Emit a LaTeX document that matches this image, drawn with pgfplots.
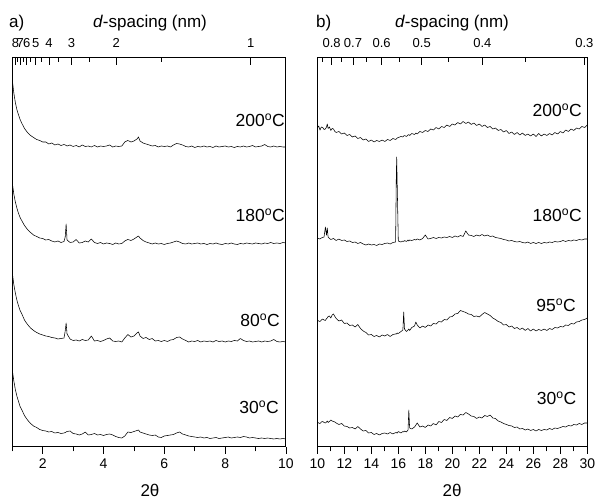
\documentclass[border=0pt]{standalone}
\usepackage{fontspec}
\setmainfont{Liberation Sans}
\usepackage{pgfplots}
\usepackage{pgfplotstable}
\pgfplotsset{compat=1.18}

\pgfplotstableread{
x t200 t180 t80 t30
1.00 367 264 174 77
1.05 354 253 162.5 66
1.10 344.5 245 154 57.5
1.15 337.5 239 147 51
1.20 332.5 234 141.5 46
1.25 328 230 137 41
1.30 324.5 227 134 38
1.40 318.5 221.5 127 31.5
1.50 314.5 217.5 122.5 27
1.60 311.5 214.5 119 23.5
1.70 309.5 212 116.5 21
1.80 307.5 210.5 114.5 19.5
1.90 306.5 209 113 17.5
2.00 305 208.5 112 16.5
2.10 305 207 111 16
2.20 303 207.5 110.5 15
2.30 304 206 109.5 15.5
2.40 302 205 109 14
2.50 303 206 108 14.5
2.60 301.5 204.5 108.5 13.5
2.70 302.5 205.5 109 14
2.74 302 210 116 14.5
2.77 301.5 223 124 15
2.80 301 207 113 15.5
2.90 302 204.5 108 16
3.00 300.5 205 106.5 13.5
3.10 301.5 207.5 107 13
3.20 300 204 106 12
3.30 302 204.5 107.5 13
3.40 300.5 206 106.5 15
3.50 301 205 107 12
3.60 300 208 111 12.5
3.70 301.5 204.5 106 13.5
3.80 300 203.5 106.5 12
3.90 301 204.5 105.5 12.5
4.00 300.5 203 106.5 11.5
4.10 301 204 108 12.5
4.20 302 203.5 109 13
4.30 300 202.5 106 12
4.40 301 204 105.5 10.5
4.50 300.5 203 106 9.5
4.60 301 203.5 105 9
4.70 305 206 109 11
4.80 306.5 207.5 112.5 15
4.90 305 206.5 110 14.5
5.00 306 208 111 15.5
5.10 308 210 114 16.5
5.15 310 211 115 17
5.20 306 209 111 15
5.30 304 206.5 108.5 14
5.40 303 205 109.5 13
5.50 302 204 107.5 12
5.60 301 203 108.5 11.5
5.70 301.5 204 106 12
5.80 300 203 106.5 10
5.90 301 203.5 105.5 9.5
6.00 300.5 202.5 106.5 11
6.10 301 203.5 105.5 11.5
6.20 300 204 107 12
6.30 302 205 107.5 12.5
6.40 303.5 206 109.5 14
6.50 303 205 110 15
6.60 302 203.5 108 13
6.70 300.5 203 106.5 12
6.80 300 204 105 11
6.90 301 203 106 10.5
7.00 299.5 203.5 105.5 10
7.10 300.5 204 106.5 9.5
7.20 300 203 105 10
7.30 301 203.5 106 9
7.40 300 202.5 105.5 9.5
7.50 300.5 203.5 106 8.5
7.60 299.5 203 105 9
7.70 301 204 106.5 9.5
7.80 300 203 105.5 8.5
7.90 300.5 202.5 106 9
8.00 301 203.5 105 9.5
8.10 300 203 106 10
8.20 300.5 204 105.5 9
8.30 299.5 203 106.5 9.5
8.40 300.5 202.5 106 10
8.50 300 203.5 108.5 9.5
8.60 301 203 106.5 10.5
8.70 300 204 105.5 10
8.80 300.5 203.5 106 9
8.90 301.5 203 105 9.5
9.00 300 204 105.5 9
9.10 300.5 203.5 106 8.5
9.20 301 203 105 9
9.30 302.5 204 106 8.5
9.40 300.5 203.5 105.5 9
9.50 300 204.5 106 8.5
9.60 301 203.5 107.5 8
9.70 300 204 105.5 8.5
9.80 300.5 203.5 105 8
9.90 300 204.5 105.5 8.5
10.00 300 204 105 8
}\tablea

\pgfplotstableread{
x b200 b180 b95 b30
10.0 319 209 127 25
10.1 321 208.5 126 24
10.2 317 208 125.5 23.5
10.3 320 209 127 25
10.4 319.5 209.5 128 25.5
10.5 317.5 210 127 24.5
10.6 318 220 126.5 24
10.68 320 212 128.5 25
10.74 323 219 129 26
10.8 318.5 210 130.5 24.5
10.9 320 208.5 131 25.5
11.0 316.5 207.5 129 27
11.1 318.5 208 132 26
11.2 318 208.5 133 25.5
11.3 315.5 207.5 130.5 25
11.4 314.5 206.5 128.5 24
11.6 315.5 208 126 22.5
11.8 313 206.5 127 23.5
12.0 314 207 123.5 21
12.2 311.5 205.5 124 20.5
12.4 312.5 206 121.5 19
12.6 310 204.5 122 19.5
12.8 311 205 120 18
13.0 308.5 203.5 122.5 20.5
13.2 309.5 204.5 118.5 18
13.4 307 203 116 16
13.6 308 202 114.5 16.5
13.8 305.5 203 112 14
14.0 307 202 112.5 14.5
14.2 305 202.5 110.5 12.5
14.4 306.5 201.5 111.5 13.5
14.6 305.5 203 110 12
14.8 307 202.5 112 13.5
15.0 305.5 203.5 111 14
15.2 307.5 204 112.5 13
15.4 306.5 203 110.5 14.5
15.6 308.5 204.5 112.5 13
15.8 307.5 205 113 14.5
15.85 308 268 113.5 14
15.88 308.5 290 113 14.5
15.92 309 262 114 14
16.0 309.5 206 113.5 15.5
16.2 310.5 205 115.5 14
16.34 310 206 117 15.5
16.4 311 205.5 135 15
16.46 311.5 206.5 118 16
16.6 310.5 205.5 115.5 15
16.72 312 207 117 17
16.78 312.5 206 118 37
16.84 311.5 207 116.5 19
17.0 313.5 206.5 119.5 18
17.2 312.5 207.5 121 20
17.3 314 207 125 22
17.4 313 208 122 24
17.6 315.5 207 119 20
17.8 314.5 208.5 121 21
18.0 316.5 212 119.5 19.5
18.2 315.5 208 122 22
18.4 318 208.5 121 21
18.6 317 209.5 123.5 23.5
18.8 319.5 208.5 123 22
19.0 318 209.5 125.5 25.5
19.2 320.5 209 125 24.5
19.4 319.5 210 127.5 27.5
19.6 322 209.5 127 26.5
19.8 320.5 210.5 130 29.5
20.0 323 209.5 130.5 28.5
20.2 322 211 133 31
20.4 324.5 210 133.5 30
20.6 323 211.5 136.5 32.5
20.8 325.5 210.5 135.5 32
21.0 323.5 216 134.5 34.5
21.2 325 212 133 33
21.4 322.5 211.5 132.5 31
21.6 324 210.5 130.5 30.5
21.8 321.5 212 131 28.5
22.0 323 211 130 30
22.2 320.5 212.5 132.5 29
22.4 322 211 134.5 31.5
22.6 319.5 212 133 30.5
22.8 320.5 210.5 131.5 32
23.0 318 211 129 29
23.2 319 209.5 127.5 28.5
23.4 316.5 209 125.5 26
23.6 317.5 208.5 124.5 25
23.8 315 207.5 122 23.5
24.0 316.5 207 122.5 22.5
24.2 313.5 206 120 21.5
24.4 315 206.5 121 21
24.6 312.5 205.5 118.5 19.5
24.8 314.5 205 119.5 20
25.0 312 205.5 117.5 18
25.2 314 204.5 119 18.5
25.4 311.5 204 116.5 17
25.6 313 205 118.5 18
25.8 311 203.5 116 16.5
26.0 313 204.5 118 17.5
26.2 310.5 203.5 116 16
26.4 313.5 204.5 117.5 17.5
26.6 311 203.5 116.5 16.5
26.8 313 204.5 118 17.5
27.0 311.5 204 116.5 17
27.2 313.5 205 118.5 18.5
27.4 312 204.5 117.5 17.5
27.6 314.5 205.5 119.5 19
27.8 313 205 119 18.5
28.0 315.5 205.5 120.5 19.5
28.2 314 206.5 120 20.5
28.4 317 205.5 122 20
28.6 315.5 206.5 121.5 21.5
28.8 318 206 123.5 21
29.0 316.5 207 123 22.5
29.2 319 206.5 125 22
29.4 318 207.5 125.5 23.5
29.6 320.5 207 127 22.5
29.8 319.5 208 127.5 24
30.0 322 208 129 24
}\tableb

\pgfplotsset{
  mainax/.style={
    scale only axis, anchor=south west, height=389pt,
    ymin=0, ymax=389, ytick=\empty,
    xtick pos=bottom, tick align=outside,
    major tick length=7pt, minor tick length=4.5pt,
    axis line style={line width=1pt},
    every tick/.style={line width=0.8pt, black},
    xticklabel style={font=\fontsize{14}{16}\selectfont, yshift=-1pt},
    /pgf/number format/assume math mode=true,
  },
  topax/.style={
    scale only axis, anchor=south west, height=389pt,
    ymin=0, ymax=1, axis y line=none, axis x line*=top,
    tick align=inside,
    major tick length=7pt, minor tick length=4.5pt,
    axis line style={line width=1pt},
    every tick/.style={line width=0.8pt, black},
    xticklabel style={font=\fontsize{13}{15}\selectfont, yshift=7pt},
    /pgf/number format/assume math mode=true,
  },
}
\tikzset{
  curve/.style={black, line width=0.55pt, line join=round},
  lab/.style={anchor=east, font=\fontsize{17.5}{20}\selectfont, inner sep=0pt},
  ttl/.style={font=\fontsize{17}{20}\selectfont},
}

\begin{document}
\begin{tikzpicture}
\useasboundingbox (0pt,0pt) rectangle (600pt,500pt);

% ---- panel a ----
\begin{axis}[mainax, at={(12.3pt,53pt)}, width=273.7pt,
  xmin=1, xmax=10, xtick={2,4,6,8,10}, minor xtick={1,3,5,7,9}]
  \addplot[curve] table[x=x,y=t200]{\tablea};
  \addplot[curve] table[x=x,y=t180]{\tablea};
  \addplot[curve] table[x=x,y=t80]{\tablea};
  \addplot[curve] table[x=x,y=t30]{\tablea};
  \node[lab] at (axis cs:9.97,327) {200\textsuperscript{o}C};
  \node[lab] at (axis cs:9.97,232) {180\textsuperscript{o}C};
  \node[lab] at (axis cs:9.80,127) {80\textsuperscript{o}C};
  \node[lab] at (axis cs:9.77,40) {30\textsuperscript{o}C};
\end{axis}
\begin{axis}[topax, at={(12.3pt,53pt)}, width=273.7pt,
  xmin=1, xmax=10,
  xtick={1.1043,1.2620,1.4723,1.7668,2.2086,2.9450,4.4180,8.8427},
  xticklabels={8,7,6,5,4,3,2,1},
  minor xtick={1.1779,1.3591,1.6062,1.9632,2.5242,3.5341,5.8918}]
  \addplot[draw=none] coordinates {(1,0)};
\end{axis}

% ---- panel b ----
\begin{axis}[mainax, at={(317.3pt,53pt)}, width=270pt,
  xmin=10, xmax=30, xtick={10,12,...,30}, minor xtick={11,13,...,29}]
  \addplot[curve] table[x=x,y=b200]{\tableb};
  \addplot[curve] table[x=x,y=b180]{\tableb};
  \addplot[curve] table[x=x,y=b95]{\tableb};
  \addplot[curve] table[x=x,y=b30]{\tableb};
  \node[lab] at (axis cs:29.6,337) {200\textsuperscript{o}C};
  \node[lab] at (axis cs:29.6,232) {180\textsuperscript{o}C};
  \node[lab] at (axis cs:29.16,142) {95\textsuperscript{o}C};
  \node[lab] at (axis cs:29.2,49) {30\textsuperscript{o}C};
\end{axis}
\begin{axis}[topax, at={(317.3pt,53pt)}, width=270pt,
  xmin=10, xmax=30,
  xtick={11.0595,12.6455,14.7640,17.7388,22.2241,29.7812},
  xticklabels={0.8,0.7,0.6,0.5,0.4,0.3},
  minor xtick={10.4071,11.7994,13.6226,16.1148,19.7280,25.4483}]
  \addplot[draw=none] coordinates {(10,0)};
\end{axis}

% ---- titles and labels ----
\node[ttl] at (150pt,477pt) {\textit{d}-spacing (nm)};
\node[ttl] at (452pt,477pt) {\textit{d}-spacing (nm)};
\node[ttl, anchor=west, inner sep=0pt] at (9pt,477pt) {a)};
\node[ttl, anchor=west, inner sep=0pt] at (316pt,477pt) {b)};
\node[ttl] at (150pt,10pt) {2θ};
\node[ttl] at (452pt,10pt) {2θ};
\end{tikzpicture}
\end{document}
